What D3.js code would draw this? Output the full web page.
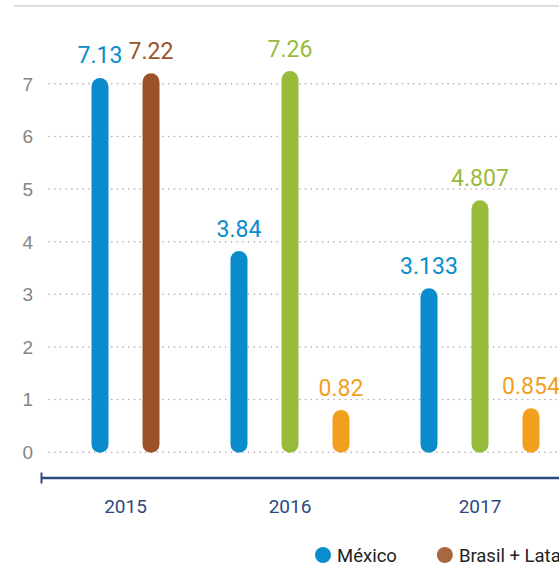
<!DOCTYPE html>
<meta charset="utf-8">
<style>
  body { margin: 0; background: #fff; }
  svg { display: block; font-family: Roboto, "Noto Sans", sans-serif; }
  .grid line { stroke: #a6a6a6; stroke-width: 1.5; stroke-dasharray: 0.1,5.6; stroke-linecap: round; }
  .grid text { fill: #858585; font-size: 19px; }
  .year { fill: #2c4a80; font-size: 19px; }
  .val { font-size: 23px; text-anchor: middle; }
  .legend text { fill: #222; font-size: 18.5px; }
</style>
<body>
<div id="chart"></div>
<script src="https://d3js.org/d3.v7.min.js"></script>
<script>
  // chart data
  var years = ["2015", "2016", "2017"];
  var seriesNames = ["México", "Brasil + Latam", "Brasil", "Latam"];
  var seriesColors = ["#0a8bcb", "#9b5228", "#97bb3b", "#f19f1f"];
  var legendColors = ["#0b8ccc", "#a8683e", "#97bb3b", "#f19f1f"];
  var mexico = [7.13, 3.84, 3.133];
  var brasilLatam = [7.22, null, null];
  var brasil = [null, 7.26, 4.807];
  var latam = [null, 0.82, 0.854];
  var yTicks = [0, 1, 2, 3, 4, 5, 6, 7];

  var width = 559, height = 566;
  var barW = 17, groupGap = 1.725;

  var seriesValues = [mexico, brasilLatam, brasil, latam];

  // lay the bars out as slots: one per bar, a wider gap between years
  var bars = [], slot = 0;
  years.forEach(function (yr, i) {
    if (i > 0) slot += groupGap;
    var first = true;
    seriesValues.forEach(function (vals, s) {
      if (vals[i] == null) return;
      if (!first) slot += 1;
      first = false;
      bars.push({ year: yr, series: s, value: vals[i], slot: slot });
    });
  });

  var x = d3.scaleLinear()
      .domain([0, slot])
      .range([100, 531]);

  var y = d3.scaleLinear()
      .domain([0, 7])
      .range([451.7, 83.3]);

  var svg = d3.select("#chart").append("svg")
      .attr("width", width)
      .attr("height", height);

  // top rule
  svg.append("line")
      .attr("x1", 14).attr("x2", width)
      .attr("y1", 6).attr("y2", 6)
      .attr("stroke", "#d2d2d2").attr("stroke-width", 1.5);

  // y gridlines + labels
  var gridX = 49;
  var gy = svg.append("g")
      .attr("class", "grid")
      .attr("transform", "translate(" + gridX + ",0)")
      .call(d3.axisLeft(y).tickValues(yTicks).tickSize(-(width - gridX)).tickPadding(16).tickFormat(d3.format("d")));
  gy.select(".domain").remove();
  gy.selectAll("text").attr("font-family", null).attr("font-size", null).attr("dy", "0.36em");

  // bars
  svg.selectAll("rect.bar")
      .data(bars)
      .enter().append("rect")
      .attr("class", "bar")
      .attr("x", function (d) { return x(d.slot) - barW / 2; })
      .attr("y", function (d) { return y(d.value) + 1.5; })
      .attr("width", barW)
      .attr("height", function (d) { return y(0) + 1 - y(d.value) - 1.5; })
      .attr("rx", barW / 2)
      .attr("fill", function (d) { return seriesColors[d.series]; });

  // value labels
  svg.selectAll("text.val")
      .data(bars)
      .enter().append("text")
      .attr("class", "val")
      .attr("x", function (d) { return x(d.slot); })
      .attr("y", function (d) { return y(d.value) - 13; })
      .attr("fill", function (d) { return seriesColors[d.series]; })
      .text(function (d) { return d.value; });

  // x axis line with left cap
  var axisY = 478;
  svg.append("line")
      .attr("x1", 41).attr("x2", width)
      .attr("y1", axisY).attr("y2", axisY)
      .attr("stroke", "#2d4a82").attr("stroke-width", 2.5);
  svg.append("line")
      .attr("x1", 41.5).attr("x2", 41.5)
      .attr("y1", axisY - 5.5).attr("y2", axisY + 5.5)
      .attr("stroke", "#2d4a82").attr("stroke-width", 2);

  // year labels centred under each group
  svg.selectAll("text.year")
      .data(years)
      .enter().append("text")
      .attr("class", "year")
      .attr("text-anchor", "middle")
      .attr("x", function (yr) {
        return x(d3.mean(bars.filter(function (b) { return b.year === yr; }), function (b) { return b.slot; }));
      })
      .attr("y", 512.5)
      .text(function (d) { return d; });

  // legend
  var legend = svg.append("g").attr("class", "legend")
      .attr("transform", "translate(315,555)");
  var lx = 0;
  seriesNames.forEach(function (name, i) {
    var g = legend.append("g").attr("transform", "translate(" + lx + ",0)");
    g.append("circle").attr("cx", 8).attr("cy", 0).attr("r", 8).attr("fill", legendColors[i]);
    var t = g.append("text").attr("x", 22).attr("y", 6.5).text(name);
    lx += 22 + t.node().getComputedTextLength() + 40;
  });
</script>
</body>
